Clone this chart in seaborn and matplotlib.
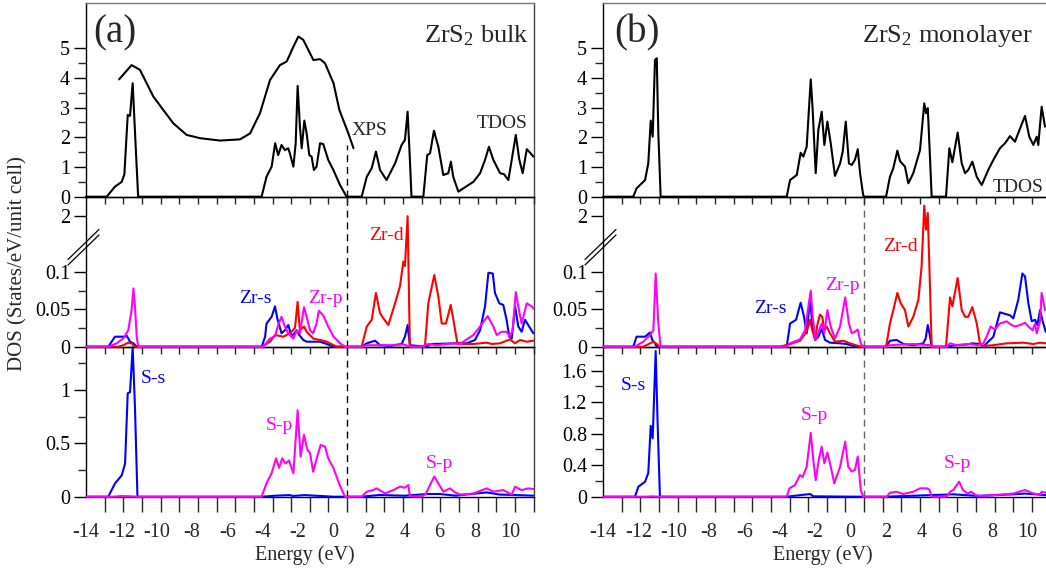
import numpy as np
import matplotlib
matplotlib.use("Agg")
import matplotlib.pyplot as plt
from matplotlib.ticker import FixedLocator, MultipleLocator, FuncFormatter, NullFormatter
from matplotlib.lines import Line2D
import seaborn as sns

# ---------------- data (energy eV, DOS) ----------------
TDOS_BULK = [(-14.0, 0), (-12.83, 0), (-12.36, 0.34), (-11.98, 0.50), (-11.83, 0.75), (-11.64, 2.75),
             (-11.51, 2.72), (-11.36, 3.82), (-11.18, 1.57), (-11.05, 0), (-4.07, 0), (-3.79, 0.67),
             (-3.50, 1.01), (-3.30, 1.80), (-3.13, 1.40), (-2.94, 1.74), (-2.75, 1.57), (-2.56, 1.63),
             (-2.47, 1.46), (-2.27, 1.01), (-2.14, 1.80), (-2.03, 3.73), (-1.90, 2.36), (-1.80, 1.63),
             (-1.65, 2.56), (-1.52, 2.13), (-1.37, 1.40), (-1.24, 1.35), (-1.11, 0.90), (-0.96, 1.01),
             (-0.76, 1.80), (-0.58, 1.77), (-0.30, 1.24), (-0.01, 0.90), (0.37, 0.39), (0.74, 0),
             (1.59, 0), (1.88, 0.67), (2.16, 0.96), (2.40, 1.52), (2.63, 0.90), (3.00, 0.56),
             (3.48, 1.12), (3.85, 1.74), (4.04, 1.91), (4.19, 2.86), (4.32, 1.24), (4.41, 0),
             (5.08, 0), (5.30, 1.40), (5.46, 1.46), (5.68, 2.22), (5.93, 1.68), (6.21, 0.73),
             (6.49, 0.79), (6.64, 1.18), (6.77, 0.67), (7.06, 0.17), (7.34, 0.28), (7.91, 0.50),
             (8.29, 0.79), (8.57, 1.24), (8.79, 1.68), (9.04, 1.24), (9.42, 0.79), (9.64, 0.76),
             (9.89, 0.56), (10.08, 1.24), (10.31, 2.08), (10.51, 1.24), (10.70, 0.79), (10.93, 1.60),
             (11.15, 1.46), (11.30, 1.35)]
XPS_BULK = [(-12.13, 3.95), (-11.42, 4.43), (-10.95, 4.27), (-10.19, 3.37), (-9.63, 2.92), (-9.06, 2.47),
            (-8.31, 2.08), (-7.55, 1.97), (-6.42, 1.89), (-5.29, 1.93), (-4.72, 2.13), (-4.16, 2.81),
            (-3.59, 3.93), (-3.03, 4.43), (-2.65, 4.55), (-2.27, 5.05), (-1.99, 5.39), (-1.71, 5.28),
            (-1.14, 4.60), (-0.76, 4.63), (-0.48, 4.49), (0.0, 3.82), (0.33, 2.92), (0.84, 2.13),
            (1.13, 1.63)]
ZR_S_BULK = [(-14.0, 0), (-12.74, 0), (-12.36, 0.0134), (-11.79, 0.0134), (-11.70, 0.0148), (-11.51, 0.0067),
             (-11.32, 0.0045), (-11.13, 0), (-4.06, 0), (-3.87, 0.0134), (-3.79, 0.031), (-3.50, 0.040),
             (-3.31, 0.054), (-3.18, 0.038), (-2.94, 0.018), (-2.75, 0.022), (-2.56, 0.029), (-2.37, 0.0134),
             (-2.08, 0.022), (-1.94, 0.0157), (-1.71, 0.009), (-1.52, 0.0067), (-0.76, 0.0067), (-0.39, 0.0036),
             (0.0, 0), (1.59, 0), (1.88, 0.0045), (2.35, 0.008), (2.63, 0.002), (3.19, 0.001), (3.85, 0.0036),
             (4.04, 0.0134), (4.19, 0.029), (4.32, 0.002), (5.20, 0), (5.55, 0.0036), (6.96, 0.0045),
             (7.53, 0.0045), (8.00, 0.009), (8.29, 0.022), (8.57, 0.054), (8.76, 0.099), (9.01, 0.098),
             (9.13, 0.072), (9.38, 0.058), (9.60, 0.056), (9.79, 0.036), (9.94, 0.0134), (10.08, 0.011),
             (10.27, 0.054), (10.45, 0.027), (10.64, 0.020), (10.83, 0.036), (11.30, 0.018)]
ZR_P_BULK = [(-14.0, 0), (-12.74, 0), (-12.27, 0.0045), (-11.89, 0.011), (-11.61, 0.022), (-11.42, 0.049),
             (-11.32, 0.078), (-11.23, 0.054), (-11.13, 0.013), (-11.04, 0), (-3.97, 0), (-3.59, 0.011),
             (-3.31, 0.014), (-3.13, 0.029), (-2.94, 0.040), (-2.75, 0.027), (-2.56, 0.018), (-2.27, 0.011),
             (-2.08, 0.022), (-1.90, 0.018), (-1.67, 0.053), (-1.52, 0.040), (-1.33, 0.022), (-1.15, 0.018),
             (-0.96, 0.031), (-0.83, 0.048), (-0.58, 0.042), (-0.30, 0.027), (0.0, 0.0134), (0.37, 0.0045),
             (0.65, 0), (1.59, 0), (1.88, 0.002), (3.19, 0.002), (3.95, 0.003), (4.23, 0.001), (4.45, 0),
             (4.99, 0), (5.36, 0.0036), (5.83, 0.002), (6.77, 0.0045), (7.15, 0.0036), (7.91, 0.0157),
             (8.29, 0.027), (8.72, 0.041), (9.04, 0.027), (9.23, 0.0157), (9.51, 0.020), (9.79, 0.020),
             (9.98, 0.0134), (10.13, 0.022), (10.31, 0.073), (10.45, 0.054), (10.64, 0.031), (10.93, 0.058),
             (11.21, 0.054), (11.30, 0.051)]
ZR_D_BULK = [(-14.0, 0), (-12.17, 0), (-11.89, 0.002), (-11.61, 0.0054), (-11.42, 0.0045), (-11.23, 0),
             (-4.06, 0), (-3.59, 0.0067), (-3.31, 0.0157), (-2.84, 0.0134), (-2.46, 0.018), (-2.18, 0.025),
             (-2.03, 0.060), (-1.90, 0.022), (-1.67, 0.027), (-1.52, 0.020), (-1.15, 0.011), (-0.76, 0.009),
             (-0.39, 0.0067), (0.18, 0), (1.59, 0), (1.88, 0.027), (2.16, 0.036), (2.40, 0.072), (2.63, 0.045),
             (2.82, 0.038), (3.10, 0.029), (3.48, 0.058), (3.76, 0.081), (3.95, 0.114), (4.04, 0.108),
             (4.19, 2.0), (4.32, 0), (5.17, 0), (5.36, 0.058), (5.70, 0.096), (5.93, 0.067), (6.12, 0.031),
             (6.36, 0.031), (6.63, 0.056), (6.78, 0.036), (7.00, 0.0054), (7.34, 0.0036), (7.91, 0.0036),
             (8.66, 0.0054), (8.95, 0.0036), (9.42, 0.0045), (9.98, 0.0098), (10.27, 0.0045), (10.55, 0.009),
             (10.93, 0.0067), (11.30, 0.008)]
S_S_BULK = [(-14.0, 0), (-12.74, 0), (-12.36, 0.125), (-11.98, 0.20), (-11.79, 0.31), (-11.64, 0.97),
            (-11.51, 0.98), (-11.36, 1.40), (-11.23, 0.84), (-11.09, 0), (-4.07, 0), (-3.22, 0.01),
            (-2.47, 0.015), (-2.30, 0.007), (-1.61, 0.015), (0.0, 0), (1.59, 0), (2.60, 0.016), (4.00, 0.009),
            (5.27, 0.025), (6.00, 0.025), (6.90, 0.01), (8.66, 0.04), (9.40, 0.02), (11.30, 0.01)]
S_P_BULK = [(-14.0, 0), (-12.5, 0), (-12.0, 0.006), (-11.5, 0.004), (-11.1, 0), (-4.07, 0), (-3.79, 0.125),
            (-3.50, 0.22), (-3.25, 0.36), (-3.08, 0.27), (-2.90, 0.36), (-2.71, 0.31), (-2.52, 0.34),
            (-2.27, 0.22), (-2.03, 0.81), (-1.86, 0.375), (-1.67, 0.58), (-1.48, 0.44), (-1.33, 0.41),
            (-1.15, 0.234), (-0.92, 0.375), (-0.73, 0.485), (-0.48, 0.47), (-0.30, 0.36), (-0.01, 0.27),
            (0.37, 0.10), (0.65, 0), (1.59, 0), (1.88, 0.047), (2.25, 0.062), (2.44, 0.078), (2.91, 0.031),
            (3.38, 0.062), (3.76, 0.094), (4.04, 0.084), (4.23, 0.11), (4.32, 0.006), (5.00, 0), (5.23, 0.03),
            (5.46, 0.11), (5.70, 0.19), (5.93, 0.125), (6.21, 0.047), (6.59, 0.078), (6.88, 0.04), (7.17, 0.02),
            (7.91, 0.03), (8.66, 0.078), (9.04, 0.047), (9.60, 0.062), (10.08, 0.02), (10.27, 0.094),
            (10.64, 0.062), (11.02, 0.078), (11.30, 0.072)]

TDOS_MONO = [(-14.0, 0), (-12.29, 0), (-12.10, 0.28), (-11.62, 0.56), (-11.44, 1.12), (-11.30, 2.56),
             (-11.19, 2.02), (-11.06, 4.60), (-10.96, 4.66), (-10.87, 2.13), (-10.74, 0), (-3.61, 0),
             (-3.42, 0.56), (-3.04, 0.73), (-2.82, 1.48), (-2.67, 1.35), (-2.48, 1.68), (-2.25, 3.95),
             (-2.14, 2.92), (-1.97, 0.79), (-1.82, 2.25), (-1.63, 2.86), (-1.48, 1.74), (-1.31, 2.53),
             (-1.12, 1.80), (-0.88, 0.70), (-0.59, 1.12), (-0.44, 1.52), (-0.27, 2.53), (-0.09, 1.12),
             (0.07, 1.07), (0.25, 1.24), (0.41, 1.60), (0.54, 0.79), (0.72, 0.04), (0.80, 0), (2.01, 0),
             (2.23, 0.67), (2.42, 0.96), (2.65, 1.55), (2.80, 1.20), (3.08, 1.01), (3.27, 0.45), (3.55, 0.79),
             (3.93, 1.57), (4.17, 3.14), (4.27, 2.81), (4.37, 2.98), (4.50, 1.24), (4.59, 0), (5.40, 0),
             (5.59, 1.63), (5.76, 1.16), (6.06, 2.16), (6.29, 1.12), (6.48, 0.79), (6.66, 0.90), (6.89, 1.18),
             (7.14, 0.67), (7.42, 0.39), (7.79, 0.90), (8.08, 1.24), (8.45, 1.63), (8.74, 1.80), (9.02, 2.04),
             (9.30, 1.85), (9.59, 2.30), (9.87, 2.72), (10.11, 2.02), (10.34, 1.74), (10.53, 2.02),
             (10.62, 1.74), (10.81, 3.03), (11.00, 2.36)]
ZR_S_MONO = [(-14.0, 0), (-12.29, 0), (-12.10, 0.0134), (-11.62, 0.0134), (-11.34, 0.019), (-11.21, 0.009),
             (-11.06, 0.0045), (-10.96, 0), (-3.61, 0), (-3.42, 0.031), (-3.08, 0.036), (-2.82, 0.059),
             (-2.63, 0.040), (-2.48, 0.018), (-2.29, 0.063), (-2.16, 0.031), (-2.00, 0.009), (-1.82, 0.0134),
             (-1.63, 0.024), (-1.44, 0.009), (-1.16, 0.0054), (-0.59, 0.0045), (-0.22, 0.0036), (0.16, 0.001),
             (0.50, 0), (2.01, 0), (2.23, 0.008), (2.61, 0.009), (3.00, 0.0036), (3.55, 0.002), (4.11, 0.0045),
             (4.25, 0.011), (4.37, 0.029), (4.50, 0.0134), (4.59, 0), (5.44, 0), (5.90, 0.002), (6.60, 0.003),
             (6.86, 0.0045), (7.30, 0.0036), (7.50, 0.0005), (7.70, 0.0045), (8.08, 0.0134), (8.45, 0.046),
             (8.74, 0.044), (9.02, 0.042), (9.21, 0.038), (9.49, 0.063), (9.72, 0.098), (9.87, 0.094),
             (10.06, 0.058), (10.25, 0.034), (10.44, 0.036), (10.57, 0.029), (10.72, 0.049), (10.87, 0.034),
             (11.04, 0.020)]
ZR_P_MONO = [(-14.0, 0), (-12.20, 0), (-11.72, 0.0067), (-11.34, 0.0157), (-11.15, 0.022), (-11.02, 0.098),
             (-10.87, 0.031), (-10.74, 0), (-3.61, 0), (-3.42, 0.0045), (-2.86, 0.0098), (-2.57, 0.022),
             (-2.39, 0.053), (-2.25, 0.075), (-2.14, 0.040), (-1.97, 0.009), (-1.78, 0.022), (-1.63, 0.031),
             (-1.48, 0.018), (-1.31, 0.049), (-1.12, 0.027), (-0.88, 0.011), (-0.59, 0.027), (-0.30, 0.066),
             (-0.09, 0.031), (0.07, 0.018), (0.25, 0.020), (0.41, 0.023), (0.58, 0.0045), (0.72, 0), (2.01, 0),
             (2.23, 0.002), (3.55, 0.0036), (4.50, 0.002), (4.64, 0), (5.44, 0), (5.63, 0.0045), (6.00, 0.002),
             (6.70, 0.0036), (7.20, 0.002), (7.51, 0.0045), (7.70, 0.0134), (7.92, 0.027), (8.17, 0.023),
             (8.45, 0.031), (8.83, 0.034), (9.11, 0.029), (9.30, 0.027), (9.59, 0.029), (9.87, 0.032),
             (10.06, 0.027), (10.30, 0.022), (10.44, 0.031), (10.53, 0.018), (10.72, 0.034), (10.81, 0.072),
             (11.00, 0.049)]
ZR_D_MONO = [(-14.0, 0), (-11.72, 0), (-11.34, 0.0045), (-11.15, 0.0067), (-10.96, 0.0036), (-10.80, 0),
             (-3.99, 0), (-3.42, 0.0036), (-2.86, 0.008), (-2.48, 0.020), (-2.29, 0.036), (-2.16, 0.022),
             (-2.00, 0.009), (-1.88, 0.029), (-1.73, 0.043), (-1.60, 0.040), (-1.48, 0.022), (-1.35, 0.027),
             (-1.16, 0.018), (-0.88, 0.0067), (-0.41, 0.008), (-0.03, 0.0045), (0.44, 0.001), (0.60, 0),
             (2.01, 0), (2.23, 0.031), (2.42, 0.049), (2.65, 0.072), (2.84, 0.058), (3.08, 0.049), (3.27, 0.027),
             (3.55, 0.040), (3.84, 0.063), (4.02, 0.1075), (4.17, 2.65), (4.27, 1.18), (4.37, 2.20), (4.50, 0.076),
             (4.59, 0), (5.40, 0), (5.63, 0.066), (5.76, 0.054), (6.06, 0.092), (6.29, 0.049), (6.48, 0.040),
             (6.66, 0.040), (6.89, 0.053), (7.14, 0.031), (7.32, 0.0045), (7.50, 0.001), (8.08, 0.002),
             (8.83, 0.0045), (9.77, 0.0054), (10.34, 0.0036), (10.72, 0.0054), (11.05, 0.0045)]
S_S_MONO = [(-14.0, 0), (-12.19, 0), (-12.00, 0.127), (-11.62, 0.19), (-11.44, 0.30), (-11.30, 0.90),
            (-11.19, 0.74), (-11.02, 1.85), (-10.91, 0.93), (-10.78, 0), (-3.61, 0), (-2.29, 0.034),
            (-2.10, 0.005), (0.50, 0), (2.00, 0), (5.80, 0.03), (7.20, 0.01), (9.20, 0.03), (9.87, 0.04),
            (11.05, 0.02)]
S_P_MONO = [(-14.0, 0), (-11.60, 0), (-11.20, 0.005), (-10.80, 0), (-3.61, 0), (-3.45, 0.107), (-3.14, 0.148),
            (-2.86, 0.275), (-2.71, 0.25), (-2.48, 0.38), (-2.25, 0.81), (-2.10, 0.46), (-1.97, 0.21),
            (-1.78, 0.49), (-1.63, 0.635), (-1.48, 0.425), (-1.31, 0.56), (-1.16, 0.425), (-0.92, 0.17),
            (-0.59, 0.38), (-0.30, 0.70), (-0.13, 0.38), (0.07, 0.32), (0.25, 0.34), (0.41, 0.51), (0.58, 0.085),
            (0.72, 0), (2.05, 0), (2.23, 0.05), (2.61, 0.063), (2.98, 0.034), (3.55, 0.063), (3.93, 0.106),
            (4.31, 0.106), (4.46, 0.09), (4.59, 0), (5.44, 0), (5.63, 0.063), (5.82, 0.085), (6.14, 0.19),
            (6.36, 0.085), (6.63, 0.04), (6.82, 0.063), (7.10, 0.02), (7.30, 0.01), (8.08, 0.02), (9.21, 0.04),
            (9.87, 0.085), (10.34, 0.04), (10.72, 0.03), (10.81, 0.063), (11.04, 0.05)]

E_FERMI = 0.77          # dashed reference line
XPS_DASH_TOP = 1.74     # dashed line starts below XPS end in panel (a)
X_LABEL_TICKS = [-14, -12, -10, -8, -6, -4, -2, 0, 2, 4, 6, 8, 10]

# ---------------- style ----------------
sns.set_theme(style="white")
plt.rcParams.update({
    "font.family": ["Liberation Serif", "DejaVu Serif"],
    "mathtext.fontset": "custom",
    "mathtext.rm": "Liberation Serif",
    "mathtext.it": "Liberation Serif:italic",
    "axes.unicode_minus": False,
    "axes.linewidth": 1.0,
})

BLUE, MAG, RED, BLK = "#0000ff", "#ff00ff", "#ff0000", "#000000"
W, H = 1046, 569
PXU = 17.68                      # px per eV on the label scale
TICK_STEP = 18.65 / PXU          # spacing of the tick marks

fig = plt.figure(figsize=(W / 100, H / 100), dpi=100)


def rect(lpx, rpx, tpx, bpx):
    return [lpx / W, 1 - bpx / H, (rpx - lpx) / W, (bpx - tpx) / H]


B_BRK, K_BRK = 0.134, 0.0218


def fwd(y):
    y = np.asarray(y, float)
    return np.where(y <= B_BRK, y, B_BRK + (y - B_BRK) * K_BRK)


def inv(d):
    d = np.asarray(d, float)
    return np.where(d <= B_BRK, d, B_BRK + (d - B_BRK) / K_BRK)


fmt = FuncFormatter(lambda v, p: f"{v:g}")
TL = 14.5


def line(ax, data, color):
    e = [p[0] for p in data]
    d = [p[1] for p in data]
    sns.lineplot(x=e, y=d, ax=ax, color=color, lw=1.5, estimator=None, sort=False,
                 clip_on=False, zorder=3)


def style_axes(ax, xmax, kind, gray_dash=False):
    ax.set_facecolor("none")
    ax.set_xlim(-14, xmax)
    ticks = -14 + TICK_STEP * np.arange(0, 30)
    ticks = ticks[ticks <= xmax + 0.05]
    ax.xaxis.set_major_locator(FixedLocator(X_LABEL_TICKS))
    ax.xaxis.set_minor_locator(FixedLocator(ticks))
    ax.xaxis.set_minor_formatter(NullFormatter())
    for s in ["left", "bottom"]:
        ax.spines[s].set_color("black")
    ax.spines["right"].set_color("#444444")
    ax.spines["top"].set_color("#777777" if kind == "top" else "black")
    if kind == "bot":
        ax.tick_params(axis="x", which="major", length=0, pad=19, labelsize=TL, bottom=True, top=False)
        ax.tick_params(axis="x", which="minor", length=10.5, width=1, direction="out", bottom=True, top=False)
    else:
        ax.tick_params(axis="x", which="major", length=0, labelbottom=False, bottom=True, top=False)
        ax.tick_params(axis="x", which="minor", length=5, width=1, direction="out", bottom=True, top=False)
    ax.tick_params(axis="y", which="major", length=8.5, width=1, direction="out", left=True, right=False,
                   labelsize=TL, pad=3, colors="black")
    ax.tick_params(axis="y", which="minor", length=5.5, width=1, direction="out", left=True, right=False)
    ax.yaxis.set_major_formatter(fmt)
    ax.yaxis.set_minor_formatter(NullFormatter())
    ax.set_xlabel("")
    ax.set_ylabel("")


PANELS = [
    dict(l=86, r=86 + 25.32 * PXU, xmax=11.32, tdos=TDOS_BULK, xps=XPS_BULK,
         zs=ZR_S_BULK, zp=ZR_P_BULK, zd=ZR_D_BULK, ss=S_S_BULK, sp=S_P_BULK,
         bot_top=1.406, bot_major=0.5, bot_minor=0.25, dash="black"),
    dict(l=603, r=603 + 25.15 * PXU, xmax=11.15, tdos=TDOS_MONO, xps=None,
         zs=ZR_S_MONO, zp=ZR_P_MONO, zd=ZR_D_MONO, ss=S_S_MONO, sp=S_P_MONO,
         bot_top=1.905, bot_major=0.4, bot_minor=0.2, dash="#666666"),
]
DASH = (0, (5, 3.5))

for P in PANELS:
    axb = fig.add_axes(rect(P["l"], P["r"], 346.7, 496.7))
    axm = fig.add_axes(rect(P["l"], P["r"], 196.7, 346.7))
    axt = fig.add_axes(rect(P["l"], P["r"], 3.3, 196.7))

    # top: TDOS (+XPS)
    line(axt, P["tdos"], BLK)
    if P["xps"] is not None:
        line(axt, P["xps"], BLK)
        axt.vlines(E_FERMI, 0, XPS_DASH_TOP, colors=P["dash"], lw=1.0, linestyles=DASH)
    style_axes(axt, P["xmax"], "top")
    axt.set_ylim(0, 6.51)
    axt.yaxis.set_major_locator(MultipleLocator(1))
    axt.yaxis.set_minor_locator(FixedLocator([0.5, 1.5, 2.5, 3.5, 4.5]))
    axt.set_yticks([0, 1, 2, 3, 4, 5])

    # middle: Zr orbitals, broken scale
    axm.set_yscale("function", functions=(fwd, inv))
    line(axm, P["zs"], BLUE)
    line(axm, P["zd"], RED)
    line(axm, P["zp"], MAG)
    axm.axvline(E_FERMI, color=P["dash"], lw=1.0, ls=DASH)
    style_axes(axm, P["xmax"], "mid")
    axm.set_ylim(0, 3.2)
    axm.yaxis.set_major_locator(FixedLocator([0, 0.05, 0.1, 2]))
    axm.yaxis.set_minor_locator(FixedLocator([0.025, 0.075]))

    # bottom: S orbitals
    line(axb, P["ss"], BLUE)
    line(axb, P["sp"], MAG)
    axb.axvline(E_FERMI, color=P["dash"], lw=1.0, ls=DASH)
    style_axes(axb, P["xmax"], "bot")
    axb.set_ylim(0, P["bot_top"])
    axb.yaxis.set_major_locator(MultipleLocator(P["bot_major"]))
    axb.yaxis.set_minor_locator(MultipleLocator(P["bot_minor"]))

    # axis-break marks on the middle panel
    x0 = P["l"]
    for dy in (0, 5.5):
        fig.add_artist(Line2D([(x0 - 18) / W, (x0 + 13) / W],
                              [1 - (259.5 + dy) / H, 1 - (229.5 + dy) / H],
                              transform=fig.transFigure, color="black", lw=0.9))


def ftxt(px, py, s, **kw):
    fig.text(px / W, 1 - py / H, s, **kw)


ftxt(115, 33, "(a)", fontsize=28, ha="center", va="center")
ftxt(637, 33, "(b)", fontsize=28, ha="center", va="center")
ftxt(529, 42, r"ZrS$_2$ bulk", fontsize=19, ha="right", va="baseline")
ftxt(1033, 42, r"ZrS$_2$ monolayer", fontsize=19, ha="right", va="baseline")
ftxt(370, 135, "XPS", fontsize=14, ha="center", va="baseline")
ftxt(502, 128, "TDOS", fontsize=14, ha="center", va="baseline")
ftxt(993, 192, "TDOS", fontsize=14, ha="left", va="baseline")

ftxt(255, 303, "Zr-s", fontsize=14, ha="center", va="baseline", color=BLUE)
ftxt(325, 303, "Zr-p", fontsize=14, ha="center", va="baseline", color=MAG)
ftxt(386, 240, "Zr-d", fontsize=14, ha="center", va="baseline", color=RED)
ftxt(770, 313, "Zr-s", fontsize=14, ha="center", va="baseline", color=BLUE)
ftxt(842, 290, "Zr-p", fontsize=14, ha="center", va="baseline", color=MAG)
ftxt(900, 251, "Zr-d", fontsize=14, ha="center", va="baseline", color=RED)

ftxt(153, 383, "S-s", fontsize=14, ha="center", va="baseline", color=BLUE)
ftxt(279, 430, "S-p", fontsize=14, ha="center", va="baseline", color=MAG)
ftxt(439, 468, "S-p", fontsize=14, ha="center", va="baseline", color=MAG)
ftxt(633, 390, "S-s", fontsize=14, ha="center", va="baseline", color=BLUE)
ftxt(814, 420, "S-p", fontsize=14, ha="center", va="baseline", color=MAG)
ftxt(957, 468, "S-p", fontsize=14, ha="center", va="baseline", color=MAG)

ftxt(305, 560, "Energy (eV)", fontsize=14.5, ha="center", va="baseline")
ftxt(823, 560, "Energy (eV)", fontsize=14.5, ha="center", va="baseline")
ftxt(18, 264, "DOS (States/eV/unit cell)", fontsize=15, ha="center", va="center", rotation=90)

fig.savefig("out.png", dpi=100)
